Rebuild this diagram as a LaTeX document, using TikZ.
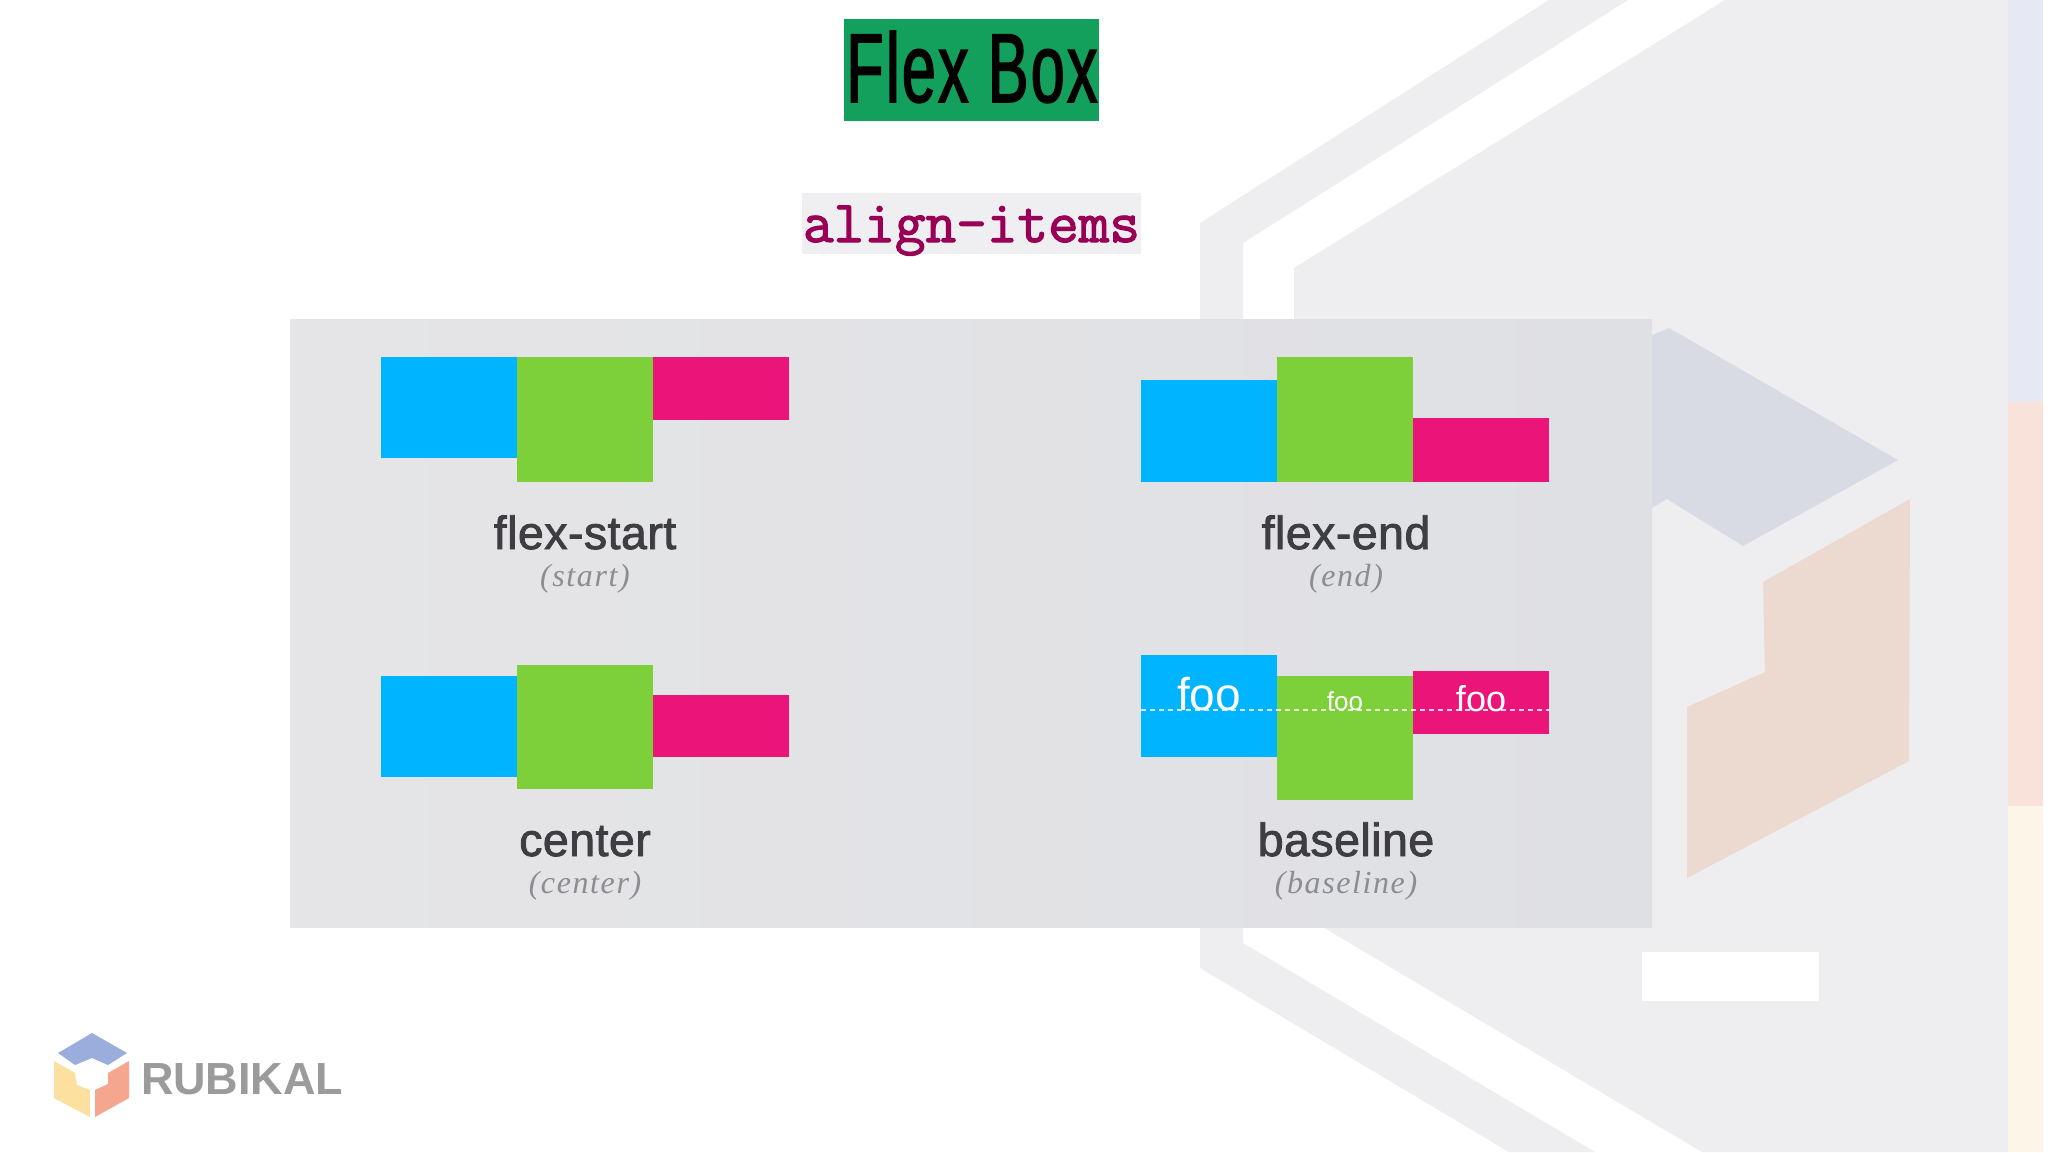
\documentclass[tikz,border=0pt]{standalone}
\usepackage{fontspec}
\setmainfont{Liberation Sans}
\newfontfamily\titlefont[FakeStretch=0.62, FakeBold=1.6, LetterSpace=2.5]{Liberation Sans}
\newfontfamily\codefont[FakeBold=2]{Latin Modern Mono}
\newfontfamily\labelfont[FakeBold=1.8, LetterSpace=1]{Liberation Sans}
\newfontfamily\subfont[LetterSpace=5]{Liberation Serif Italic}
\newcommand{\fsize}[1]{\fontsize{#1}{#1}\selectfont}
\definecolor{bandgray}{HTML}{EEEEF0}
\definecolor{panelleft}{HTML}{E5E5E7}
\definecolor{panelright}{HTML}{DFE0E4}
\definecolor{titlegreen}{HTML}{12A05C}
\definecolor{codeback}{HTML}{EFEEF1}
\definecolor{codeink}{HTML}{990055}
\definecolor{boxblue}{HTML}{00B4FF}
\definecolor{boxgreen}{HTML}{7ED03A}
\definecolor{boxpink}{HTML}{EB1478}
\definecolor{labelink}{HTML}{3E3E42}
\definecolor{subink}{HTML}{8C8C92}
\definecolor{shapeblue}{HTML}{D9DBE4}
\definecolor{shapeorange}{HTML}{ECD9CF}
\definecolor{stripeblue}{HTML}{E6E8F3}
\definecolor{stripeorange}{HTML}{F8E2DA}
\definecolor{stripecream}{HTML}{FCF5E8}
\definecolor{logoblue}{HTML}{9AADDC}
\definecolor{logoyellow}{HTML}{FBE0A0}
\definecolor{logoorange}{HTML}{F5A68E}
\definecolor{logogray}{HTML}{9B9B9B}
\tikzset{
    textnode/.style={inner sep=0pt, outer sep=0pt, anchor=base},
    foolabel/.style={textnode, text=white},
}

\begin{document}
\begin{tikzpicture}[x=1pt, y=-1pt]
    \useasboundingbox (0,0) rectangle (2048,1152);
    \fill[white] (0,0) rectangle (2048,1152);
    \fill[bandgray] (1549,0) -- (1200,223) -- (1200,968) -- (1509,1152) -- (1595,1152) -- (1243,943) -- (1243,243) -- (1628,0) -- cycle;
    \fill[bandgray] (1725,0) -- (2008,0) -- (2008,1152) -- (1702,1152) -- (1294,910) -- (1294,268) -- cycle;
    \fill[shapeblue] (1669,328) -- (1898,460) -- (1743,546) -- (1667,499) -- (1640,515) -- (1640,340) -- cycle;
    \fill[shapeorange] (1910,499) -- (1909,761) -- (1687,878) -- (1687,707) -- (1765,672) -- (1763,582) -- cycle;
    \fill[white] (1642,952) rectangle (1819,1001);
    \fill[stripeblue] (2008,0) rectangle (2043,402);
    \fill[stripeorange] (2008,402) rectangle (2043,806);
    \fill[stripecream] (2008,806) rectangle (2043,1152);

    \node[fill=titlegreen, minimum width=255pt, minimum height=102pt, inner sep=0pt] (titlebox) at (971.5,70) {};
    \node[textnode] (title) at (972,102) {\titlefont\fsize{98}Flex Box};
    \node[fill=codeback, minimum width=339pt, minimum height=61pt, inner sep=0pt] (codebox) at (971.5,223.5) {};
    \node[textnode, text=codeink] (code) at (971.5,242) {\codefont\fsize{59.5}align-items};

    \shade[left color=panelleft, right color=panelright] (290,319) rectangle (1652,927.5);
    \foreach \Left/\BlueTop/\BlueEnd/\GreenTop/\GreenEnd/\PinkTop/\PinkEnd in {
        381/357/458/357/482/357/420, 1141/380/482/357/482/418/482,
        381/676/777/665/789/695/757, 1141/655/757/676/800/671/734}{
        \fill[boxblue] (\Left,\BlueTop) rectangle (\Left+136,\BlueEnd);
        \fill[boxgreen] (\Left+136,\GreenTop) rectangle (\Left+272,\GreenEnd);
        \fill[boxpink] (\Left+272,\PinkTop) rectangle (\Left+408,\PinkEnd);
    }
    \draw[white, opacity=.8, line width=1.5pt, dash pattern=on 5pt off 4pt] (1141,710) -- (1549,710);
    \node[foolabel] (fooblue) at (1209,710) {\fsize{46}foo};
    \node[foolabel] (foogreen) at (1345,710) {\fsize{26}foo};
    \node[foolabel] (foopink) at (1481,711) {\fsize{36}foo};

    \foreach \Name/\Px/\Py/\Main/\Sub in {
        start/585/549/flex-start/start, end/1346/549/flex-end/end,
        center/585/856/center/center, base/1346/856/baseline/baseline}{
        \node[textnode, text=labelink] (\Name main) at (\Px,\Py) {\labelfont\fsize{46.5}\Main};
        \node[textnode, text=subink] (\Name sub) at (\Px,\Py+37) {\subfont\fsize{32}(\Sub)};
    }

    \fill[logoblue] (92,1033) -- (127,1053) -- (108,1065) -- (92,1058) -- (75,1065) -- (58,1053) -- cycle;
    \fill[logoyellow] (54,1061) -- (75,1073) -- (77,1085) -- (90,1090) -- (90,1117) -- (54,1098) -- cycle;
    \fill[logoorange] (129,1061) -- (129,1098) -- (95,1117) -- (95,1090) -- (108,1084) -- (108,1073) -- cycle;
    \node[textnode, text=logogray, anchor=base west] (logo) at (141,1094) {\fsize{45}\bfseries RUBIKAL};
\end{tikzpicture}
\end{document}
